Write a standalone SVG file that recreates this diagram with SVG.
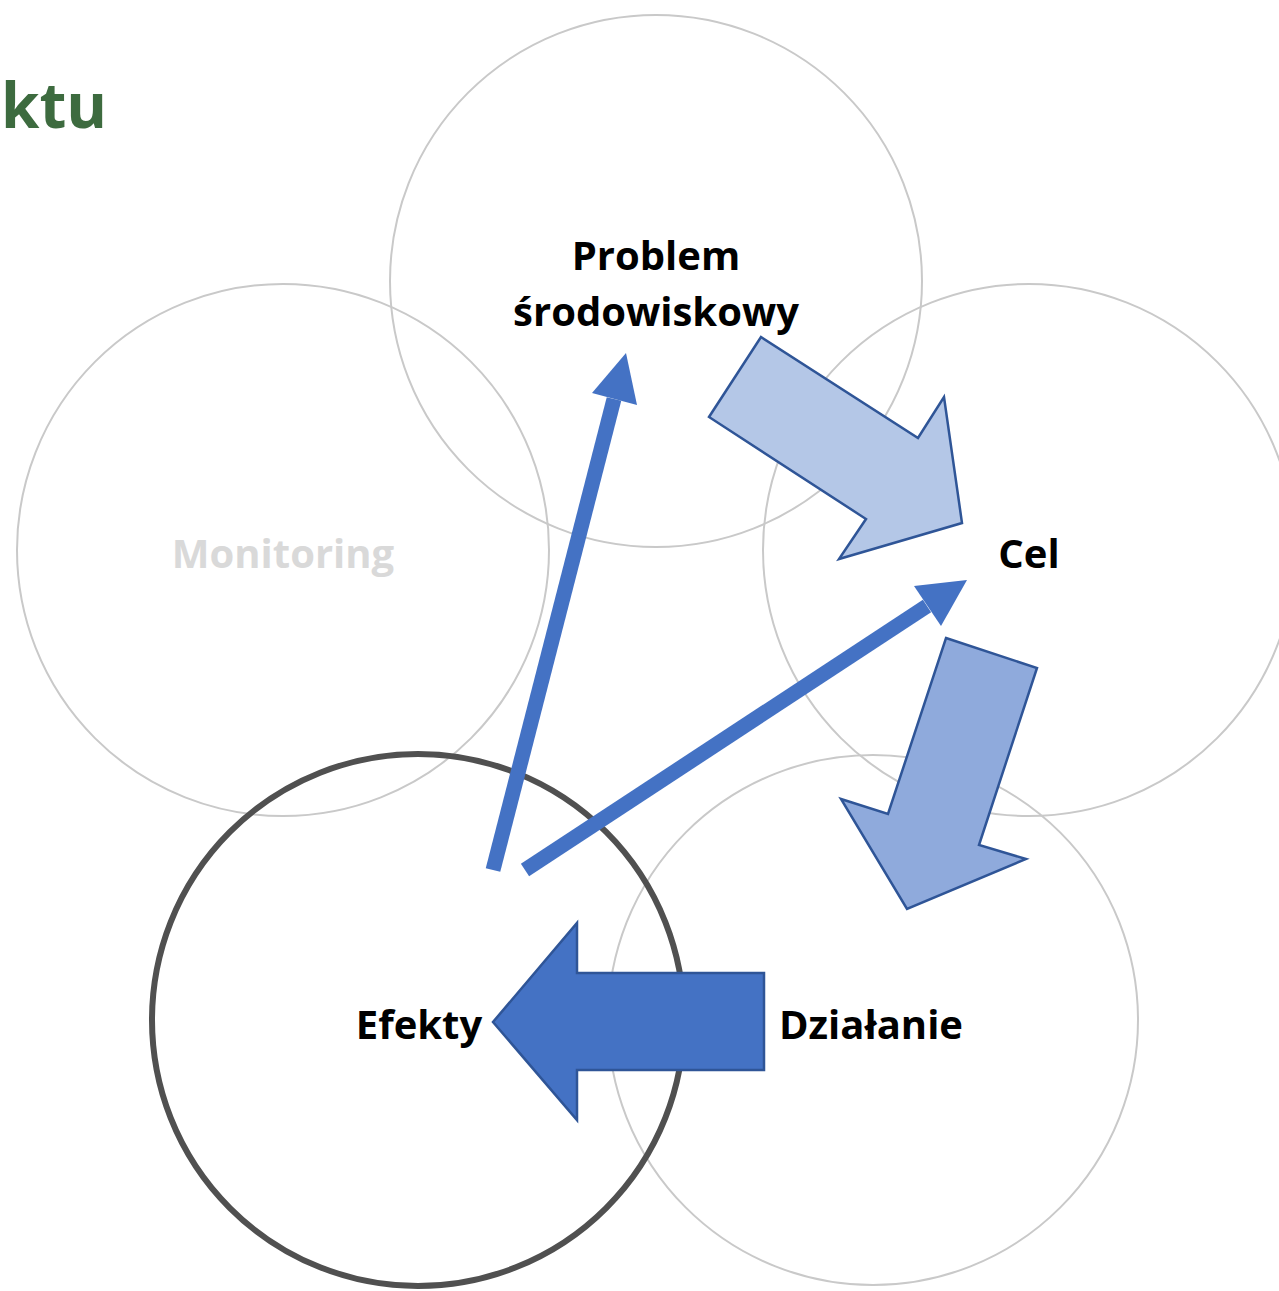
<svg xmlns="http://www.w3.org/2000/svg" width="1279" height="1291" viewBox="0 0 1279 1291">
<style>
.c{fill:none;stroke:#c9c9c9;stroke-width:2}
.cd{fill:none;stroke:#505050;stroke-width:6}
.t{font-family:"Open Sans","Noto Sans",sans-serif;font-weight:700;font-size:40px;text-anchor:middle;fill:#000}
.ln{stroke:#4472c4;stroke-width:15;fill:none}
.hd{fill:#4472c4}
.big{stroke:#2f5597;stroke-width:2.5;stroke-linejoin:miter}
</style>
<rect width="1279" height="1291" fill="#fff"/>
<text x="1" y="128" font-family="'Open Sans','Noto Sans',sans-serif" font-weight="700" font-size="62" fill="#3d6b3f">ktu</text>
<g id="problem"><circle class="c" cx="656" cy="281" r="266"/></g>
<g id="monitoring"><circle class="c" cx="283" cy="550" r="266"/></g>
<g id="cel"><circle class="c" cx="1029" cy="550" r="266"/></g>
<g id="dzialanie"><circle class="c" cx="873" cy="1020" r="265"/></g>
<g id="efekty"><circle class="cd" cx="418" cy="1020" r="266"/></g>
<g id="connectors">
<line class="ln" x1="493" y1="870" x2="614" y2="399"/>
<polygon class="hd" points="626,353 637,405 592,393"/>
<line class="ln" x1="525" y1="870" x2="927" y2="606"/>
<polygon class="hd" points="967,580 941,626 914,586"/>
<polygon class="big" fill="#b4c7e7" points="761,337 918,438 944,397 962,523 839,559 866,519 709,417"/>
<polygon class="big" fill="#8faadc" points="946,638 1037,668 979,845 1026,859 907,909 841,799 888,814"/>
<polygon class="big" fill="#4472c4" points="764,973 764,1070 577,1070 577,1120 493,1022 577,923 577,973"/>
</g>
<text class="t" x="656" y="270">Problem</text>
<text class="t" x="656" y="326">środowiskowy</text>
<text class="t" x="283" y="568" style="fill:#d9d9d9">Monitoring</text>
<text class="t" x="1029" y="568">Cel</text>
<text class="t" x="419" y="1039">Efekty</text>
<text class="t" x="871" y="1039">Działanie</text>
</svg>
